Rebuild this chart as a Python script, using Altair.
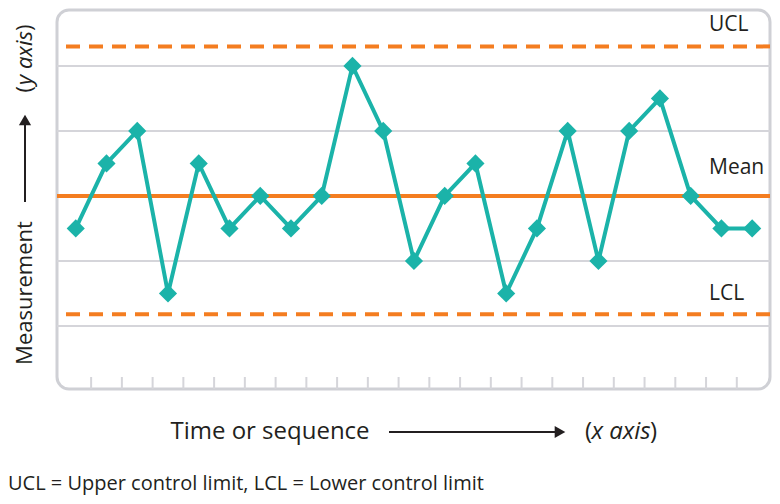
import altair as alt
import pandas as pd

# ---- data ----
sample = list(range(1, 24))
measurement = [-0.5, 0.5, 1, -1.5, 0.5, -0.5, 0, -0.5, 0, 2, 1, -1, 0, 0.5,
               -1.5, -0.5, 1, -1, 1, 1.5, 0, -0.5, -0.5]
mean_value = [0]
limit_names = ["UCL", "LCL"]
limit_values = [2.3, -1.82]
grid_levels = [-2, -1, 1, 2]
tick_positions = [1.5, 2.5, 3.5, 4.5, 5.5, 6.5, 7.5, 8.5, 9.5, 10.5, 11.5,
                  12.5, 13.5, 14.5, 15.5, 16.5, 17.5, 18.5, 19.5, 20.5, 21.5, 22.5]

TEAL = "#1bb3a9"
ORANGE = "#f47d20"
GRID = "#d5d5da"
TEXT = "#231f20"
FONT = "Open Sans"

W, H = 713, 379

xs = alt.Scale(domain=[0.39, 23.58], nice=False, zero=False)
ys = alt.Scale(domain=[-2.97, 2.86], nice=False, zero=False)

series = pd.DataFrame({"sample": sample, "value": measurement})
grid_df = pd.DataFrame({"level": grid_levels})
ticks_df = pd.DataFrame({"t": tick_positions})
limits_df = pd.DataFrame({"name": limit_names, "value": limit_values})
mean_df = pd.DataFrame({"name": ["Mean"], "value": mean_value})

grid = alt.Chart(grid_df).mark_rule(color=GRID, strokeWidth=2).encode(
    y=alt.Y("level:Q", scale=ys, axis=None))

ticks = alt.Chart(ticks_df).mark_rule(color=GRID, strokeWidth=2).encode(
    x=alt.X("t:Q", scale=xs, axis=None),
    y=alt.value(H), y2=alt.value(H - 12))

limits = alt.Chart(limits_df).mark_rule(
    color=ORANGE, strokeWidth=4, strokeDash=[14, 9]).encode(
    y=alt.Y("value:Q", scale=ys, axis=None))

mean_line = alt.Chart(mean_df).mark_rule(color=ORANGE, strokeWidth=4).encode(
    y=alt.Y("value:Q", scale=ys, axis=None))

line = alt.Chart(series).mark_line(color=TEAL, strokeWidth=4).encode(
    x=alt.X("sample:Q", scale=xs, axis=None),
    y=alt.Y("value:Q", scale=ys, axis=None))

points = alt.Chart(series).mark_point(
    shape="diamond", filled=True, size=330, color=TEAL, opacity=1).encode(
    x=alt.X("sample:Q", scale=xs, axis=None),
    y=alt.Y("value:Q", scale=ys, axis=None))

lab_kw = dict(font=FONT, fontSize=21, color=TEXT, align="left", baseline="middle")
LX = 652
ucl_lab = alt.Chart(limits_df.iloc[[0]]).mark_text(dy=-21, **lab_kw).encode(
    x=alt.value(LX), y=alt.Y("value:Q", scale=ys, axis=None), text="name:N")
lcl_lab = alt.Chart(limits_df.iloc[[1]]).mark_text(dy=-20, **lab_kw).encode(
    x=alt.value(LX), y=alt.Y("value:Q", scale=ys, axis=None), text="name:N")
mean_lab = alt.Chart(mean_df).mark_text(dy=-28, **lab_kw).encode(
    x=alt.value(LX), y=alt.Y("value:Q", scale=ys, axis=None), text="name:N")

# ---- axis titles, arrows and footer (outside the plot area) ----
one = pd.DataFrame({"k": [0]})

def txt(s, x, y, angle=0, italic=False, align="left", size=24):
    kw = dict(font=FONT, fontSize=size, color=TEXT, align=align,
              baseline="middle", clip=False, angle=angle)
    if italic:
        kw["fontStyle"] = "italic"
    return alt.Chart(one).mark_text(**kw).encode(
        x=alt.value(x), y=alt.value(y), text=alt.value(s))

x_title = txt("Time or sequence", 213, 422, align="center")
x_open = txt("(", 535, 422, align="right")
x_it = txt("x axis", 564, 422, italic=True, align="center")
x_close = txt(")", 593, 422)

x_arrow = alt.Chart(one).mark_rule(color=TEXT, strokeWidth=2, clip=False).encode(
    x=alt.value(332), x2=alt.value(500), y=alt.value(422))
x_head = alt.Chart(one).mark_point(
    shape="triangle-right", filled=True, size=150, color=TEXT, opacity=1,
    clip=False).encode(x=alt.value(503), y=alt.value(422))

YX = -32
YS = 22
y_title = txt("Measurement", YX, 283, angle=270, align="center", size=YS)
y_open = txt("(", YX, 76, angle=270, align="right", size=YS)
y_it = txt("y axis", YX, 48, angle=270, italic=True, align="center", size=YS)
y_close = txt(")", YX, 21, angle=270, size=YS)

y_arrow = alt.Chart(one).mark_rule(color=TEXT, strokeWidth=2, clip=False).encode(
    x=alt.value(YX), y=alt.value(192), y2=alt.value(115))
y_head = alt.Chart(one).mark_point(
    shape="triangle-up", filled=True, size=150, color=TEXT, opacity=1,
    clip=False).encode(x=alt.value(YX), y=alt.value(110))

footer = txt("UCL = Upper control limit, LCL = Lower control limit", -49, 474, size=20)

chart = alt.layer(
    grid, ticks, limits, mean_line, line, points, ucl_lab, mean_lab, lcl_lab,
    x_title, x_open, x_it, x_close, x_arrow, x_head,
    y_title, y_open, y_it, y_close, y_arrow, y_head, footer,
).properties(
    width=W, height=H,
    autosize=alt.AutoSizeParams(type="none"),
    padding={"left": 49, "top": 2, "right": 2, "bottom": 107},
).configure_view(
    stroke="#cfd0d5", strokeWidth=3, cornerRadius=12,
)

chart.save("out.html", embed_options={"renderer": "svg", "actions": False})
